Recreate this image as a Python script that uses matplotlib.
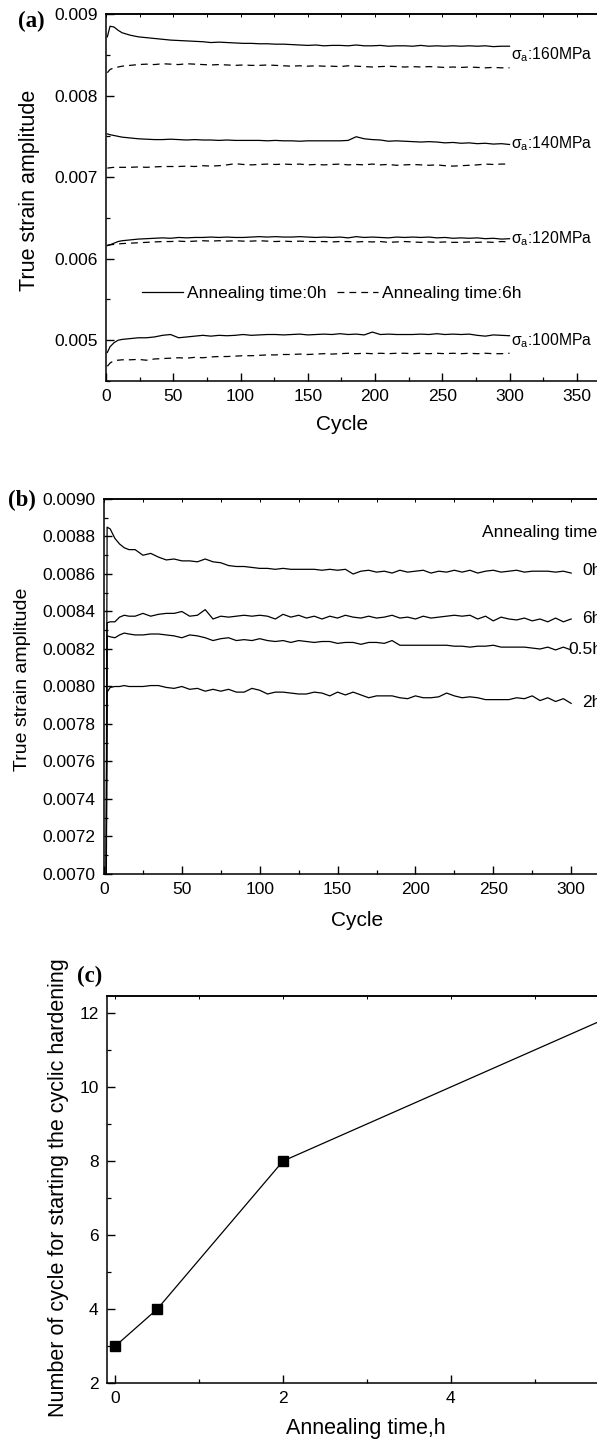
import numpy as np
import matplotlib
matplotlib.use("Agg")
import matplotlib.pyplot as plt
from matplotlib.ticker import MultipleLocator, FormatStrFormatter
from matplotlib.lines import Line2D

plt.rcParams["font.family"] = ["Liberation Sans", "DejaVu Sans"]
plt.rcParams["mathtext.fontset"] = "custom"
plt.rcParams["mathtext.rm"] = "Liberation Sans"

# ── data (strain values in units of 1e-3) ───────────────────────────────────
cyc_a = [1, 3, 6, 9, 12, 18, 24, 30, 36, 42, 48, 54, 60, 66, 72, 78, 84, 90,
         96, 102, 108, 114, 120, 126, 132, 138, 144, 150, 156, 162, 168, 174,
         180, 186, 192, 198, 204, 210, 216, 222, 228, 234, 240, 246, 252, 258,
         264, 270, 276, 282, 288, 294, 300]

a160_0h = [8.72, 8.85, 8.84, 8.80, 8.77,
           8.74, 8.72, 8.71, 8.70, 8.69, 8.68,
           8.675, 8.67, 8.665, 8.66, 8.65, 8.655,
           8.65, 8.645, 8.64, 8.64, 8.635, 8.635,
           8.63, 8.63, 8.625, 8.62, 8.615, 8.62,
           8.61, 8.615, 8.615, 8.61, 8.62, 8.61,
           8.61, 8.615, 8.605, 8.61, 8.61, 8.605,
           8.615, 8.605, 8.61, 8.605, 8.61, 8.605,
           8.61, 8.605, 8.61, 8.60, 8.605, 8.605]
a160_6h = [8.28, 8.32, 8.34, 8.35, 8.36,
           8.37, 8.38, 8.385, 8.38, 8.39, 8.385,
           8.38, 8.39, 8.385, 8.38, 8.375, 8.38,
           8.375, 8.37, 8.375, 8.37, 8.37, 8.375,
           8.37, 8.365, 8.36, 8.365, 8.36, 8.365,
           8.36, 8.36, 8.355, 8.365, 8.36, 8.355,
           8.35, 8.355, 8.36, 8.355, 8.35, 8.355,
           8.35, 8.355, 8.35, 8.345, 8.35, 8.345,
           8.35, 8.345, 8.34, 8.345, 8.34, 8.34]
a140_0h = [7.53, 7.52, 7.51, 7.50, 7.49,
           7.48, 7.47, 7.465, 7.46, 7.46, 7.465,
           7.46, 7.455, 7.46, 7.455, 7.455, 7.45,
           7.455, 7.45, 7.45, 7.45, 7.45, 7.445,
           7.45, 7.445, 7.445, 7.44, 7.445, 7.445,
           7.445, 7.445, 7.445, 7.45, 7.495, 7.47,
           7.46, 7.455, 7.44, 7.445, 7.44, 7.435,
           7.43, 7.435, 7.43, 7.42, 7.425, 7.415,
           7.42, 7.41, 7.415, 7.405, 7.41, 7.40]
a140_6h = [7.11, 7.115, 7.12, 7.12, 7.12,
           7.12, 7.125, 7.12, 7.125, 7.13, 7.13,
           7.13, 7.135, 7.13, 7.14, 7.135, 7.14,
           7.15, 7.165, 7.155, 7.15, 7.155, 7.16,
           7.155, 7.16, 7.155, 7.16, 7.15, 7.155,
           7.15, 7.155, 7.16, 7.15, 7.155, 7.15,
           7.16, 7.15, 7.155, 7.145, 7.15, 7.155,
           7.15, 7.145, 7.15, 7.14, 7.135, 7.14,
           7.145, 7.15, 7.16, 7.155, 7.16, 7.16]
a120_0h = [6.16, 6.17, 6.19, 6.21, 6.22,
           6.23, 6.24, 6.245, 6.25, 6.255, 6.25,
           6.26, 6.255, 6.26, 6.26, 6.265, 6.26,
           6.265, 6.26, 6.26, 6.265, 6.27, 6.265,
           6.27, 6.265, 6.265, 6.27, 6.265, 6.26,
           6.265, 6.26, 6.265, 6.255, 6.27, 6.26,
           6.265, 6.26, 6.255, 6.265, 6.26, 6.265,
           6.26, 6.265, 6.255, 6.26, 6.25, 6.255,
           6.25, 6.255, 6.245, 6.25, 6.24, 6.245]
a120_6h = [6.165, 6.17, 6.175, 6.18, 6.185,
           6.19, 6.195, 6.20, 6.205, 6.21, 6.21,
           6.215, 6.21, 6.215, 6.22, 6.215, 6.22,
           6.215, 6.22, 6.215, 6.215, 6.22, 6.215,
           6.21, 6.215, 6.21, 6.215, 6.21, 6.21,
           6.21, 6.205, 6.21, 6.21, 6.205, 6.21,
           6.205, 6.21, 6.20, 6.205, 6.21, 6.205,
           6.20, 6.205, 6.20, 6.205, 6.20, 6.20,
           6.205, 6.20, 6.205, 6.20, 6.21, 6.205]
a100_0h = [4.85, 4.92, 4.97, 5.00, 5.01,
           5.02, 5.03, 5.03, 5.04, 5.06, 5.07,
           5.03, 5.04, 5.05, 5.06, 5.05, 5.06,
           5.055, 5.06, 5.07, 5.06, 5.065, 5.07,
           5.07, 5.065, 5.07, 5.075, 5.065, 5.07,
           5.075, 5.07, 5.08, 5.07, 5.075, 5.065,
           5.10, 5.07, 5.075, 5.07, 5.07, 5.07,
           5.075, 5.07, 5.08, 5.07, 5.075, 5.07,
           5.075, 5.06, 5.05, 5.065, 5.06, 5.055]
a100_6h = [4.68, 4.72, 4.75, 4.755, 4.76,
           4.76, 4.765, 4.755, 4.77, 4.775, 4.78,
           4.785, 4.78, 4.79, 4.785, 4.795, 4.80,
           4.80, 4.805, 4.81, 4.81, 4.815, 4.82,
           4.82, 4.825, 4.825, 4.83, 4.825, 4.83,
           4.835, 4.83, 4.835, 4.84, 4.835, 4.84,
           4.835, 4.84, 4.835, 4.84, 4.84, 4.835,
           4.84, 4.835, 4.84, 4.835, 4.84, 4.835,
           4.84, 4.835, 4.84, 4.835, 4.835, 4.84]
stress_labels = ["160MPa", "140MPa", "120MPa", "100MPa"]
stress_label_y = [8.50, 7.415, 6.245, 5.00]

cyc_b = [1, 2, 4, 7, 10, 13, 16, 20, 25, 30, 35, 40, 45, 50, 55, 60, 65, 70,
         75, 80, 85, 90, 95, 100, 105, 110, 115, 120, 125, 130, 135, 140, 145,
         150, 155, 160, 165, 170, 175, 180, 185, 190, 195, 200, 205, 210, 215,
         220, 225, 230, 235, 240, 245, 250, 255, 260, 265, 270, 275, 280, 285,
         290, 295, 300]
b_0h = [6.0, 8.85, 8.84, 8.79, 8.76, 8.74, 8.73,
        8.73, 8.70, 8.71, 8.69, 8.675, 8.68,
        8.67, 8.67, 8.665, 8.68, 8.665, 8.66,
        8.645, 8.64, 8.64, 8.635, 8.63, 8.63,
        8.625, 8.63, 8.625, 8.625, 8.625, 8.625,
        8.62, 8.625, 8.62, 8.625, 8.60, 8.615,
        8.62, 8.61, 8.615, 8.605, 8.62, 8.61,
        8.615, 8.62, 8.605, 8.615, 8.61, 8.62,
        8.61, 8.62, 8.605, 8.615, 8.62, 8.61,
        8.615, 8.62, 8.61, 8.615, 8.615, 8.615,
        8.61, 8.615, 8.605]
b_6h = [6.0, 8.34, 8.345, 8.345, 8.37, 8.38, 8.375,
        8.375, 8.39, 8.375, 8.385, 8.39, 8.39,
        8.40, 8.375, 8.38, 8.41, 8.36, 8.375,
        8.37, 8.375, 8.38, 8.375, 8.38, 8.375,
        8.36, 8.385, 8.37, 8.38, 8.365, 8.375,
        8.36, 8.375, 8.365, 8.38, 8.37, 8.365,
        8.375, 8.365, 8.37, 8.38, 8.365, 8.37,
        8.36, 8.375, 8.365, 8.37, 8.375, 8.38,
        8.375, 8.38, 8.36, 8.375, 8.35, 8.37,
        8.36, 8.355, 8.365, 8.35, 8.36, 8.345,
        8.365, 8.345, 8.36]
b_05h = [6.0, 8.27, 8.265, 8.26, 8.275, 8.285, 8.28,
         8.275, 8.275, 8.28, 8.28, 8.275, 8.27,
         8.26, 8.275, 8.27, 8.26, 8.245, 8.255,
         8.26, 8.245, 8.25, 8.245, 8.255, 8.245,
         8.24, 8.245, 8.235, 8.245, 8.24, 8.235,
         8.24, 8.24, 8.23, 8.235, 8.235, 8.225,
         8.235, 8.235, 8.23, 8.245, 8.22, 8.22,
         8.22, 8.22, 8.22, 8.22, 8.22, 8.215,
         8.215, 8.21, 8.215, 8.215, 8.22, 8.21,
         8.21, 8.21, 8.21, 8.205, 8.20, 8.21,
         8.195, 8.21, 8.195]
b_2h = [6.0, 7.97, 7.995, 8.0, 8.0, 8.005, 8.0,
        8.0, 8.0, 8.005, 8.005, 7.995, 7.99,
        8.0, 7.985, 7.99, 7.975, 7.985, 7.975,
        7.985, 7.97, 7.97, 7.99, 7.98, 7.96,
        7.97, 7.97, 7.965, 7.96, 7.96, 7.97,
        7.965, 7.95, 7.97, 7.955, 7.97, 7.955,
        7.94, 7.95, 7.95, 7.95, 7.94, 7.935,
        7.95, 7.94, 7.94, 7.945, 7.965, 7.95,
        7.94, 7.945, 7.94, 7.93, 7.93, 7.93,
        7.93, 7.94, 7.935, 7.95, 7.925, 7.94,
        7.92, 7.935, 7.91]
b_names = ["0h", "6h", "0.5h", "2h"]
b_label_pos = [(307, 8.62), (307, 8.365), (298.5, 8.195), (307, 7.912)]

anneal_h = [0, 0.5, 2, 6]
n_start = [3, 4, 8, 12]

# ── layout helpers ──────────────────────────────────────────────────────────
W, H = 597, 1441
fig = plt.figure(figsize=(W / 100, H / 100), dpi=100)


def put(l, t, r, b):
    return fig.add_axes([l / W, 1 - b / H, (r - l) / W, (b - t) / H])


def style(ax, xmaj, xmin, ymaj, ymin, top_step):
    ax.xaxis.set_major_locator(MultipleLocator(xmaj))
    ax.xaxis.set_minor_locator(MultipleLocator(xmin))
    ax.yaxis.set_major_locator(MultipleLocator(ymaj))
    ax.yaxis.set_minor_locator(MultipleLocator(ymin))
    ax.tick_params(which="major", direction="in", length=6, width=1.0,
                   labelsize=12.5, pad=6)
    ax.tick_params(which="minor", direction="in", length=3, width=0.9)
    for s in ax.spines.values():
        s.set_linewidth(1.1)
    sec = ax.secondary_xaxis("top")
    lo, hi = ax.get_xlim()
    sec.set_xticks(np.arange(0, hi + 1e-9, top_step))
    sec.tick_params(direction="in", length=2, width=0.7, labeltop=False)
    sec.spines["top"].set_linewidth(1.1)


K = dict(color="k", lw=0.9)
DASH = (0, (5.5, 4))

# ── (a) ─────────────────────────────────────────────────────────────────────
ax = put(106, 14, 644, 381)
ax.set_xlim(0, 400)
ax.set_ylim(0.0045, 0.009)
for s0, s6 in [(a160_0h, a160_6h), (a140_0h, a140_6h),
               (a120_0h, a120_6h), (a100_0h, a100_6h)]:
    ax.plot(cyc_a, np.array(s0) * 1e-3, **K)
    ax.plot(cyc_a, np.array(s6) * 1e-3, ls=DASH, **K)
for lab, yv in zip(stress_labels, stress_label_y):
    ax.text(301, yv * 1e-3, "σ$_{\\mathrm{a}}$:" + lab, fontsize=11.3,
            ha="left", va="center")
style(ax, 50, 25, 0.001, 0.0005, 25)
ax.yaxis.set_major_formatter(FormatStrFormatter("%.3f"))
h0 = Line2D([], [], **K)
h6 = Line2D([], [], ls=DASH, **K)
ax.legend([h0, h6], ["Annealing time:0h", "Annealing time:6h"], ncol=2,
          frameon=False, loc="center left",
          bbox_to_anchor=((142 - 106) / 538, (381 - 293) / 367),
          borderpad=0, borderaxespad=0, handlelength=2.35, handletextpad=0.25,
          columnspacing=0.6, fontsize=12.5)
ax.set_ylabel("True strain amplitude", fontsize=15.5)
ax.yaxis.set_label_coords((40 - 106) / 538, 0.52)
ax.set_xlabel("Cycle", fontsize=15)
ax.xaxis.set_label_coords((342 - 106) / 538, (381 - 415) / 367)
fig.text(18 / W, 1 - 21 / H, "(a)", family=["Liberation Serif"],
         fontweight="bold", fontsize=16.5, va="center", ha="left")

# ── (b) ─────────────────────────────────────────────────────────────────────
ax = put(104, 499, 649, 874)
ax.set_xlim(0, 350)
ax.set_ylim(0.0070, 0.0090)
for ser in [b_0h, b_6h, b_05h, b_2h]:
    ax.plot(cyc_b, np.array(ser) * 1e-3, **K)
ax.text(243, 8.82e-3, "Annealing time", fontsize=12.5, ha="left", va="center")
for name, (xv, yv) in zip(b_names, b_label_pos):
    ax.text(xv, yv * 1e-3, name, fontsize=12.5, ha="left", va="center")
style(ax, 50, 25, 0.0002, 0.0001, 25)
ax.yaxis.set_major_formatter(FormatStrFormatter("%.4f"))
ax.set_ylabel("True strain amplitude", fontsize=14)
ax.yaxis.set_label_coords((31 - 104) / 545, 0.52)
ax.set_xlabel("Cycle", fontsize=15)
ax.xaxis.set_label_coords((357 - 104) / 545, (874 - 911) / 375)
fig.text(8 / W, 1 - 500 / H, "(b)", family=["Liberation Serif"],
         fontweight="bold", fontsize=16.5, va="center", ha="left")

# ── (c) ─────────────────────────────────────────────────────────────────────
ax = put(107, 996, 652, 1383)
ax.set_xlim(-0.1, 6.4)
ax.set_ylim(2, 12.46)
ax.plot(anneal_h, n_start, color="k", lw=0.9, marker="s", ms=6.5,
        mfc="k", mec="k")
style(ax, 2, 1, 2, 1, 1)
ax.set_ylabel("Number of cycle for starting the cyclic hardening",
              fontsize=15.5)
ax.yaxis.set_label_coords((69 - 107) / 545, 0.505)
ax.set_xlabel("Annealing time,h", fontsize=15.5)
ax.xaxis.set_label_coords((366 - 107) / 545, (1383 - 1418) / 387)
fig.text(77 / W, 1 - 976 / H, "(c)", family=["Liberation Serif"],
         fontweight="bold", fontsize=16.5, va="center", ha="left")

fig.savefig("out.png", dpi=100)
